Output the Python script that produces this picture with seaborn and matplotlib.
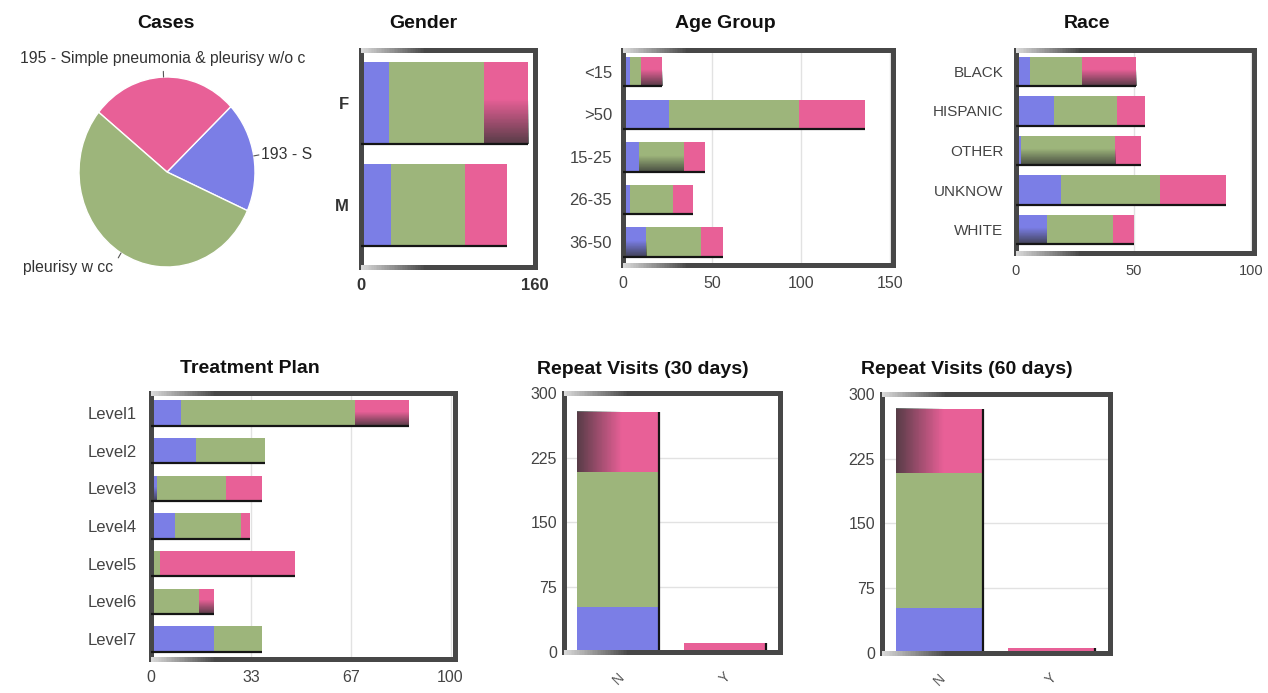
import numpy as np
import pandas as pd
import matplotlib
matplotlib.use("Agg")
import matplotlib.pyplot as plt
from matplotlib.collections import LineCollection
import seaborn as sns

# ---- data -----------------------------------------------------------------
BLUE = "#7B7EE6"
GREEN = "#9DB57B"
PINK = "#E86097"

case_labels = ["193 - S", "195 - Simple pneumonia & pleurisy w/o c", "pleurisy w cc"]
case_counts = [54, 78, 156]

gender_cats = ["F", "M"]
gender_blue = [26, 28]
gender_green = [87, 68]
gender_pink = [41, 38]

age_cats = ["<15", ">50", "15-25", "26-35", "36-50"]
age_blue = [4, 26, 9, 4, 13]
age_green = [6, 73, 25, 24, 31]
age_pink = [12, 37, 12, 11, 12]

race_cats = ["BLACK", "HISPANIC", "OTHER", "UNKNOW", "WHITE"]
race_blue = [6, 16, 2, 19, 13]
race_green = [22, 27, 40, 42, 28]
race_pink = [23, 12, 11, 28, 9]

plan_cats = ["Level1", "Level2", "Level3", "Level4", "Level5", "Level6", "Level7"]
plan_blue = [10, 15, 2, 8, 0, 0, 21]
plan_green = [58, 23, 23, 22, 3, 16, 16]
plan_pink = [18, 0, 12, 3, 45, 5, 0]

visit_cats = ["N", "Y"]
visit30_blue = [52, 0]
visit30_green = [156, 0]
visit30_pink = [70, 10]
visit60_blue = [52, 0]
visit60_green = [156, 0]
visit60_pink = [75, 5]

# ---- style ----------------------------------------------------------------
sns.set_theme(style="white")
plt.rcParams["font.family"] = ["Liberation Sans", "DejaVu Sans"]

W, H = 1268, 693
fig = plt.figure(figsize=(W / 100, H / 100), dpi=100)
FRAME = "#474747"
TICK = "#444444"


def px_axes(x0, y0, x1, y1):
    return fig.add_axes([x0 / W, 1 - y1 / H, (x1 - x0) / W, (y1 - y0) / H])


def title(x, y, s):
    fig.text(x / W, 1 - y / H, s, ha="center", va="center",
             fontsize=14, fontweight="bold", color="#111111")


def frame(ax, width_px):
    for side in ("left", "right"):
        ax.spines[side].set_color(FRAME)
        ax.spines[side].set_linewidth(2.2)
        ax.spines[side].set_antialiased(False)
    for side in ("top", "bottom"):
        ax.spines[side].set_visible(False)
    ax.set_xlabel("")
    ax.set_ylabel("")
    # top and bottom edges: light grey on the left, fading into the frame colour
    n = 40
    fade = 65 / width_px
    xs = np.linspace(0, fade, n + 1)
    light = np.array([0.85, 0.85, 0.85])
    dark = np.array([0x47, 0x47, 0x47]) / 255
    cols = [light + (dark - light) * (i / (n - 1)) for i in range(n)] + [dark]
    for yv in (0, 1):
        segs = [[(xs[i], yv), (xs[i + 1], yv)] for i in range(n)]
        segs.append([(fade, yv), (1, yv)])
        lc = LineCollection(segs, colors=cols, linewidths=2.2,
                            capstyle="butt", antialiaseds=False,
                            transform=ax.transAxes, clip_on=False, zorder=6)
        ax.add_collection(lc)


def shade(ax, x0, x1, y0, y1, along):
    """Dark gradient overlay on one bar segment."""
    n = 100
    ramp = np.clip((np.linspace(0, 1, n) - 0.45) / 0.55, 0, 1) * 0.8
    if along == "y":
        img = np.zeros((n, 2, 4))
        img[..., :3] = 0.2
        img[:, :, 3] = ramp[:, None]
    else:
        img = np.zeros((2, n, 4))
        img[..., :3] = 0.2
        img[:, :, 3] = ramp[::-1][None, :]
    ax.imshow(img, extent=(x0, x1, y0, y1), origin="lower", aspect="auto",
              interpolation="nearest", zorder=2.5)


def stacked(ax, cats, blue, green, pink, horizontal, width, width_px):
    b = np.asarray(blue, float)
    g = np.asarray(green, float)
    p = np.asarray(pink, float)
    total = b + g + p
    for vals, col in [(total, PINK), (b + g, GREEN), (b, BLUE)]:
        df = pd.DataFrame({"cat": cats, "val": vals})
        if horizontal:
            sns.barplot(data=df, x="val", y="cat", order=cats, color=col,
                        width=width, saturation=1, linewidth=0,
                        errorbar=None, ax=ax, zorder=2)
        else:
            sns.barplot(data=df, x="cat", y="val", order=cats, color=col,
                        width=width, saturation=1, linewidth=0,
                        errorbar=None, ax=ax, zorder=2)
    pos = np.arange(len(cats))
    if horizontal:
        ax.hlines(pos + width / 2, 0, total, color="#151515", lw=1.6, zorder=3)
    else:
        ax.vlines(pos + width / 2, 0, total, color="#151515", lw=1.6, zorder=3)
    frame(ax, width_px)
    return b, g, p


def hbar_panel(box, cats, blue, green, pink, width, xlim, xticks, xticklabels,
               ylim, fs, ypad, shaded, grid=True, bold=False):
    ax = px_axes(*box)
    b, g, p = stacked(ax, cats, blue, green, pink, True, width, box[2] - box[0])
    starts = {"blue": np.zeros_like(b), "green": b, "pink": b + g}
    ends = {"blue": b, "green": b + g, "pink": b + g + p}
    for i, layer in shaded:
        shade(ax, starts[layer][i], ends[layer][i], i - width / 2, i + width / 2, "y")
    ax.set_xlim(*xlim)
    ax.set_ylim(*ylim)
    ax.set_xticks(xticks)
    ax.set_xticklabels(xticklabels)
    if grid:
        ax.grid(axis="x", color="#e2e2e2", lw=1)
        ax.set_axisbelow(True)
    weight = "bold" if bold else "normal"
    col = "#333333" if bold else TICK
    ax.tick_params(axis="y", length=0, pad=ypad, labelsize=fs, labelcolor=col)
    ax.tick_params(axis="x", length=0, pad=8, labelsize=fs if bold else fs - 0.5,
                   labelcolor=col)
    for t in ax.get_xticklabels() + ax.get_yticklabels():
        t.set_fontweight(weight)
    return ax


def vbar_panel(box, cats, blue, green, pink, width, shade_first):
    ax = px_axes(*box)
    b, g, p = stacked(ax, cats, blue, green, pink, False, width, box[2] - box[0])
    if shade_first:
        shade(ax, -width / 2, width / 2, b[0] + g[0], b[0] + g[0] + p[0], "x")
    ax.set_xlim(-0.51, 1.52)
    ax.set_ylim(-0.5, 300)
    ax.set_yticks([0, 75, 150, 225, 300])
    ax.grid(axis="y", color="#e2e2e2", lw=1)
    ax.set_axisbelow(True)
    ax.tick_params(axis="y", length=0, pad=5, labelsize=11.5, labelcolor=TICK)
    ax.tick_params(axis="x", length=0, pad=13, labelsize=10, labelcolor="#555555")
    for t in ax.get_xticklabels():
        t.set_rotation(45)
    return ax


# ---- Cases pie ------------------------------------------------------------
title(166, 24, "Cases")
axp = px_axes(79, 77, 255, 267)
wedges, texts = axp.pie(case_counts, colors=[BLUE, PINK, GREEN], startangle=-24,
                        counterclock=True, labels=case_labels, labeldistance=1.1,
                        wedgeprops=dict(edgecolor="white", linewidth=1),
                        textprops=dict(fontsize=11.3, color="#333333"))
axp.set_xlim(-1, 1)
axp.set_ylim(-1, 1)
axp.set_aspect("auto")
label_dist = [1.08, 1.2, 1.18]
for w, t, d in zip(wedges, texts, label_dist):
    mid = np.deg2rad((w.theta1 + w.theta2) / 2)
    c, s = np.cos(mid), np.sin(mid)
    axp.plot([c, 1.06 * c], [s, 1.06 * s], color="#555555", lw=0.8, clip_on=False)
    t.set_position((d * c, d * s))
    t.set_clip_on(False)
texts[1].set_ha("center")

# ---- Gender ---------------------------------------------------------------
title(423, 24, "Gender")
hbar_panel((361, 50, 535, 267), gender_cats, gender_blue, gender_green, gender_pink,
           0.8, (0, 160), [0, 160], ["0", "160"], (1.61, -0.52), 12, 9,
           shaded=[(0, "pink")], grid=False, bold=True)

# ---- Age Group ------------------------------------------------------------
title(725, 24, "Age Group")
hbar_panel((623, 50, 893, 265), age_cats, age_blue, age_green, age_pink,
           0.69, (0, 151.5), [0, 50, 100, 150], ["0", "50", "100", "150"],
           (4.54, -0.51), 12, 8, shaded=[(0, "pink"), (2, "green"), (4, "blue")])

# ---- Race -----------------------------------------------------------------
title(1087, 24, "Race")
hbar_panel((1016, 50, 1254, 253), race_cats, race_blue, race_green, race_pink,
           0.74, (0, 101.1), [0, 50, 100], ["0", "50", "100"],
           (4.59, -0.54), 11, 9, shaded=[(0, "pink"), (2, "green"), (4, "blue")])

# ---- Treatment Plan -------------------------------------------------------
title(250, 369, "Treatment Plan")
hbar_panel((151, 393, 455, 659), plan_cats, plan_blue, plan_green, plan_pink,
           0.68, (0, 101.5), [0, 100 / 3, 200 / 3, 100], ["0", "33", "67", "100"],
           (6.53, -0.53), 12, 10, shaded=[(0, "pink"), (2, "blue"), (5, "pink")])

# ---- Repeat visits --------------------------------------------------------
title(643, 370, "Repeat Visits (30 days)")
vbar_panel((564, 393, 780, 652), visit_cats, visit30_blue, visit30_green,
           visit30_pink, 0.77, True)

title(967, 370, "Repeat Visits (60 days)")
vbar_panel((882, 394, 1110, 653), visit_cats, visit60_blue, visit60_green,
           visit60_pink, 0.77, True)

fig.savefig("out.png", dpi=100, facecolor="white")
